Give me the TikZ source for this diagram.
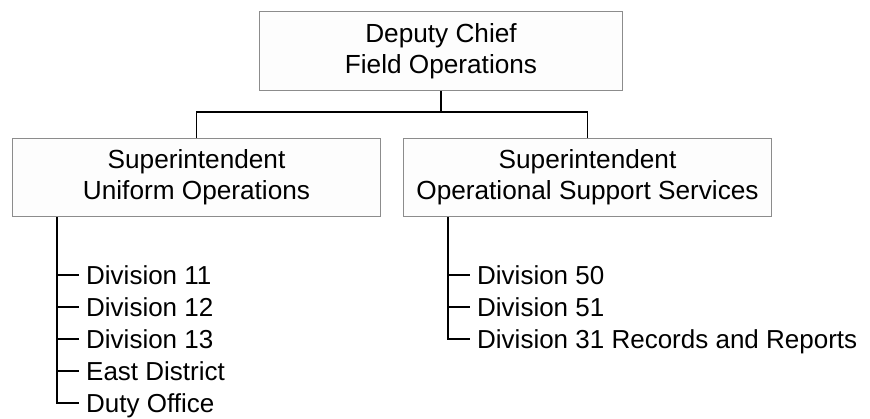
\documentclass[tikz,border=0pt]{standalone}
\usepackage{fontspec}
\setmainfont{Liberation Sans}
\definecolor{boxgray}{HTML}{8C8C8C}
\definecolor{boxfill}{HTML}{FDFDFD}
\begin{document}
\begin{tikzpicture}[x=1pt,y=-1pt,
  box/.style={draw=boxgray, fill=boxfill, line width=1.5pt, align=center,
    inner sep=0pt, font=\fontsize{26.2}{31}\selectfont},
  item/.style={anchor=base west, inner sep=0pt, text height=18pt, text depth=0pt,
    font=\fontsize{26}{31}\selectfont},
  link/.style={line width=1.8pt, black}]
\useasboundingbox (0,0) rectangle (870,418);
\node[box, minimum width=363pt, minimum height=79pt] (top) at (441,51) {Deputy Chief\\Field Operations};
\node[box, minimum width=368pt, minimum height=78pt] (left) at (196.5,177.5) {Superintendent\\Uniform Operations};
\node[box, minimum width=368pt, minimum height=78pt] (right) at (587.5,177.5) {Superintendent\\Operational Support Services};
\draw[link] (top.south) -- ++(0,21) -| (left.north);
\draw[link] (top.south) -- ++(0,21) -| (right.north);
% left list
\node[item] (a1) at (86,284) {Division 11};
\node[item] (a2) at (86,316) {Division 12};
\node[item] (a3) at (86,348) {Division 13};
\node[item] (a4) at (86,380) {East District};
\node[item] (a5) at (86,412) {Duty Office};
\coordinate (ltop) at ([xshift=45pt]left.south west);
\draw[link] (ltop) |- ([xshift=-7pt]a5.west);
\foreach \n in {a1,a2,a3,a4}
  \draw[link] (ltop |- \n.west) -- ([xshift=-7pt]\n.west);
% right list
\node[item] (b1) at (477,284) {Division 50};
\node[item] (b2) at (477,316) {Division 51};
\node[item] (b3) at (477,348) {Division 31 Records and Reports};
\coordinate (rtop) at ([xshift=45pt]right.south west);
\draw[link] (rtop) |- ([xshift=-7pt]b3.west);
\foreach \n in {b1,b2}
  \draw[link] (rtop |- \n.west) -- ([xshift=-7pt]\n.west);
\end{tikzpicture}
\end{document}
